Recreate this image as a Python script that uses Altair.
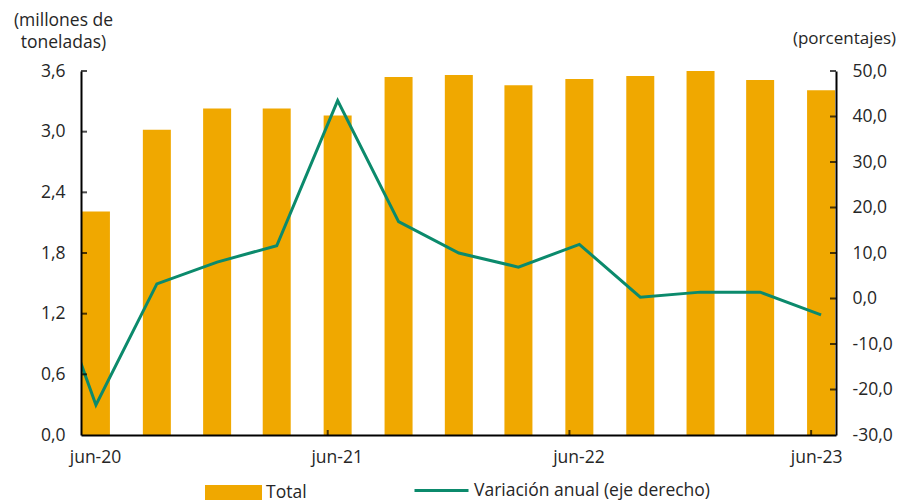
import altair as alt
import pandas as pd

# ---- data ----
quarters = ["2020-06-01", "2020-09-01", "2020-12-01", "2021-03-01", "2021-06-01",
            "2021-09-01", "2021-12-01", "2022-03-01", "2022-06-01", "2022-09-01",
            "2022-12-01", "2023-03-01", "2023-06-01"]
total = [2.21, 3.02, 3.23, 3.23, 3.16, 3.54, 3.56, 3.46, 3.52, 3.55, 3.60, 3.51, 3.41]

var_quarters = ["2020-03-01"] + quarters
variacion = [13.8, -23.4, 3.2, 8.0, 11.6, 43.5, 16.9, 10.0, 6.9, 11.9, 0.3, 1.4, 1.4, -3.6]

x_tick_dates = ["2020-06-01", "2021-06-01", "2022-06-01", "2023-06-01"]
x_tick_labels = ["jun-20", "jun-21", "jun-22", "jun-23"]
x_tick_years = [2020, 2021, 2022, 2023]

left_ticks = [0.0, 0.6, 1.2, 1.8, 2.4, 3.0, 3.6]
right_ticks = [-30, -20, -10, 0, 10, 20, 30, 40, 50]

serie_bar = "Total"
serie_line = "Variación anual (eje derecho)"
title_left = ["(millones de", "toneladas)"]
title_right = "(porcentajes)"

BAR = "#F0A800"
LINE = "#0B8A6C"
TXT = "#262626"
FONT = "Open Sans"
FS = 17.5

df_bar = pd.DataFrame({"fecha": quarters, "total": total, "serie": serie_bar})
df_line = pd.DataFrame({"fecha": var_quarters, "var": variacion, "serie2": serie_line})
df_lt = pd.DataFrame({"v": left_ticks[1:]})
df_rt = pd.DataFrame({"v": right_ticks[1:]})
df_xt = pd.DataFrame({"fecha": x_tick_dates[1:]})

mid = "utc(utcyear(datum.fecha), utcmonth(datum.fecha), 16)"

xscale = alt.Scale(type="utc",
                   domain=[alt.DateTime(year=2020, month=6, date=1, utc=True),
                           alt.DateTime(year=2023, month=7, date=1, utc=True)])

label_map = "{" + ", ".join(f"'{y}': '{l}'" for y, l in zip(x_tick_years, x_tick_labels)) + "}"
xaxis = alt.Axis(
    values=[alt.DateTime(year=y, month=6, date=1, utc=True) for y in x_tick_years],
    labelExpr=f"{label_map}[utcyear(datum.value)]",
    title=None, grid=False, ticks=False, tickSize=0,
    labelFlush=False, labelPadding=13,
    labelOffset={"condition": {"test": "utcyear(datum.value) == 2023", "value": 5}, "value": 9},
    domainColor="black", domainWidth=2, zindex=1,
)

fmt_left = "replace(format(datum.value, '.1f'), '.', ',')"
fmt_right = ("datum.value < 0 ? '-' + replace(format(abs(datum.value), '.1f'), '.', ',') : "
             "replace(format(datum.value, '.1f'), '.', ',')")

yleft = alt.Scale(domain=[0, 3.6], nice=False, zero=True)
yright = alt.Scale(domain=[-30, 50], nice=False, zero=False)

bars = alt.Chart(df_bar).transform_calculate(fm=mid).mark_bar(
    size=28, color=BAR, clip=True
).encode(
    x=alt.X("fm:T", scale=xscale, axis=xaxis),
    y=alt.Y("total:Q", scale=yleft, axis=alt.Axis(
        values=left_ticks, labelExpr=fmt_left, grid=False, ticks=False, tickSize=0,
        labelPadding=16, domainColor="black", domainWidth=2, zindex=1,
        title=title_left, titleAngle=0, titleAlign="center", titleBaseline="alphabetic",
        titleX=-18, titleY=-46, titleFontWeight="normal", titleLineHeight=22,
    )),
    color=alt.Color("serie:N", scale=alt.Scale(domain=[serie_bar], range=[BAR]),
                    legend=alt.Legend(orient="none", legendX=124, legendY=393, title=None,
                                      symbolType="M-1,-0.263H1V0.263H-1Z", symbolSize=3249,
                                      symbolStrokeWidth=0, padding=0, labelOffset=4,
                                      labelLimit=400)),
)

line = alt.Chart(df_line).transform_calculate(fm=mid).mark_line(
    strokeWidth=3, clip=True
).encode(
    x=alt.X("fm:T", scale=xscale, axis=xaxis),
    y=alt.Y("var:Q", scale=yright, axis=alt.Axis(
        orient="right", values=right_ticks, labelExpr=fmt_right, grid=False, ticks=False,
        tickSize=0, labelPadding=16, domainColor="black", domainWidth=2, zindex=1,
        title=title_right, titleAngle=0, titleAlign="center", titleBaseline="alphabetic",
        titleX=8, titleY=-28, titleFontWeight="normal", titleFontSize=17,
    )),
    stroke=alt.Stroke("serie2:N", scale=alt.Scale(domain=[serie_line], range=[LINE]),
                      legend=alt.Legend(orient="none", legendX=332, legendY=391, title=None,
                                        symbolType="stroke", symbolSize=2916,
                                        symbolStrokeWidth=3, padding=0, labelOffset=4,
                                        labelLimit=400)),
)

lt = alt.Chart(df_lt).mark_tick(orient="horizontal", size=6, thickness=2, color="black").encode(
    y=alt.Y("v:Q", scale=yleft, axis=None), x=alt.value(3)
)
rt = alt.Chart(df_rt).mark_tick(orient="horizontal", size=6, thickness=2, color="black").encode(
    y=alt.Y("v:Q", scale=yright, axis=None), x=alt.value(752)
)
xt = alt.Chart(df_xt).transform_calculate(fm="utc(utcyear(datum.fecha), utcmonth(datum.fecha), 1)").mark_tick(
    orient="vertical", size=5, thickness=2, color="black"
).encode(
    x=alt.X("fm:T", scale=xscale, axis=xaxis), y=alt.value(361.5)
)

chart = alt.layer(bars, line, lt, rt, xt).resolve_scale(
    y="independent", color="independent", stroke="independent"
).properties(
    width=755, height=364,
    autosize=alt.AutoSizeParams(type="none"),
    padding={"left": 73, "top": 63, "right": 62, "bottom": 68},
).configure(
    font=FONT,
).configure_view(
    stroke=None
).configure_axis(
    labelFont=FONT, labelFontSize=FS, labelColor=TXT,
    titleFont=FONT, titleFontSize=FS, titleColor=TXT,
).configure_legend(
    labelFont=FONT, labelFontSize=FS, labelColor=TXT,
)

chart.save("out.html", embed_options={"renderer": "svg", "actions": False})
